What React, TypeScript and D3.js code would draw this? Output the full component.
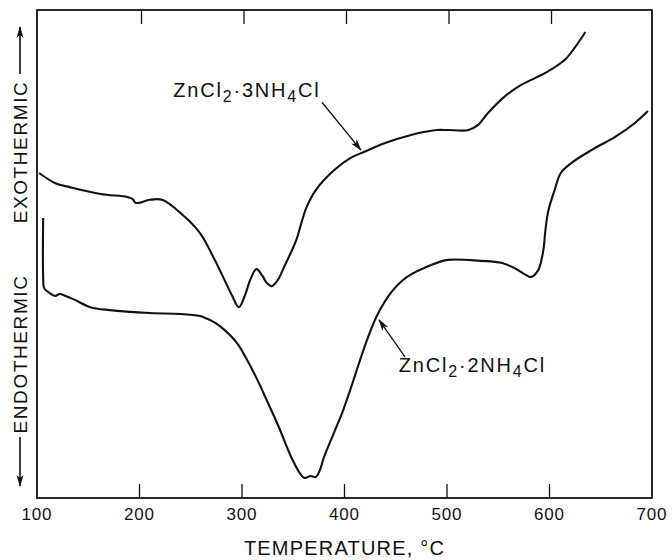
import React, { useEffect, useRef } from "react";
import * as d3 from "d3";

// ZnCl2·3NH4Cl trace
const tempA = [102, 118, 132, 162, 188, 193, 196, 200, 210, 222, 240, 259, 272, 282, 290, 297, 303, 308, 314, 320, 324, 329, 335, 341, 353, 358, 363, 372, 390, 406, 419, 439, 465, 490, 501, 521, 530, 540, 557, 572, 596, 615, 625, 635];
const signalA = [66.6, 64.5, 63.7, 62.3, 61.7, 61.3, 60.5, 60.5, 61.1, 61.1, 58.4, 54.3, 49.4, 45.1, 41.6, 39.1, 41.6, 44.7, 46.9, 45.5, 44.1, 43.4, 44.7, 47.3, 52.9, 56.4, 59.6, 63.1, 67.2, 69.7, 70.9, 72.7, 74.4, 75.4, 75.4, 75.4, 76.4, 78.9, 82.4, 84.6, 87.1, 89.8, 92.4, 95.5];

// ZnCl2·2NH4Cl trace
const tempB = [106, 106, 107, 111, 118, 122, 128, 137, 152, 171, 210, 240, 259, 262, 274, 282, 295, 305, 315, 324, 336, 348, 357, 361, 367, 372, 376, 380, 390, 398, 406, 411, 422, 432, 445, 461, 484, 501, 533, 553, 566, 577, 582, 589, 594, 596, 599, 605, 611, 621, 641, 664, 683, 696];
const signalB = [57.4, 45.5, 43.0, 42.2, 41.4, 41.8, 41.4, 40.6, 39.1, 38.5, 37.9, 37.7, 37.3, 37.1, 35.9, 34.6, 31.8, 28.3, 24.2, 20.1, 14.5, 8.4, 4.9, 4.1, 4.5, 4.3, 5.7, 8.4, 13.5, 17.6, 22.4, 25.6, 32.4, 37.5, 42, 45.3, 47.7, 48.8, 48.6, 48.2, 47.1, 45.7, 45.3, 46.7, 50.8, 54.9, 59, 63.1, 66.6, 68.6, 71.3, 74, 76.8, 79.3];

const xTicks = [100, 200, 300, 400, 500, 600, 700];
const xTitle = "TEMPERATURE, °C";

const FONT = "'Liberation Sans', Arial, Helvetica, sans-serif";

const App = () => {
  const chart = useRef<SVGSVGElement>(null);

  useEffect(() => {
    const svg = d3.select(chart.current);
    svg.selectAll("*").remove();

    const x = d3.scaleLinear().domain([100, 700]).range([37, 652]);
    const y = d3.scaleLinear().domain([0, 100]).range([498, 10]);

    const defs = svg.append("defs");
    defs
      .append("marker")
      .attr("id", "head")
      .attr("viewBox", "0 -5 12 10")
      .attr("refX", 11)
      .attr("refY", 0)
      .attr("markerWidth", 12)
      .attr("markerHeight", 10)
      .attr("markerUnits", "userSpaceOnUse")
      .attr("orient", "auto")
      .append("path")
      .attr("d", "M0,-3.5L12,0L0,3.5L3,0Z")
      .attr("fill", "#111");

    // frame
    svg
      .append("rect")
      .attr("x", x(100))
      .attr("y", y(100))
      .attr("width", x(700) - x(100))
      .attr("height", y(0) - y(100))
      .attr("fill", "none")
      .attr("stroke", "#111")
      .attr("stroke-width", 1.8);

    const inner = xTicks.slice(1, -1);
    svg
      .append("g")
      .selectAll("line.bt")
      .data(inner)
      .join("line")
      .attr("x1", (d) => x(d))
      .attr("x2", (d) => x(d))
      .attr("y1", y(0))
      .attr("y2", y(0) - 14)
      .attr("stroke", "#111")
      .attr("stroke-width", 1.3);
    svg
      .append("g")
      .selectAll("line.tt")
      .data(inner)
      .join("line")
      .attr("x1", (d) => x(d) + 2)
      .attr("x2", (d) => x(d) + 2)
      .attr("y1", y(100))
      .attr("y2", y(100) + 14)
      .attr("stroke", "#111")
      .attr("stroke-width", 1.3);

    svg
      .append("g")
      .selectAll("text")
      .data(xTicks)
      .join("text")
      .attr("x", (d) => x(d))
      .attr("y", 520)
      .attr("text-anchor", "middle")
      .attr("font-family", FONT)
      .attr("font-size", 17)
      .attr("letter-spacing", 0.8)
      .attr("fill", "#111")
      .text((d) => d);

    svg
      .append("text")
      .attr("x", x(400))
      .attr("y", 555)
      .attr("text-anchor", "middle")
      .attr("font-family", FONT)
      .attr("font-size", 20)
      .attr("letter-spacing", 1.2)
      .attr("fill", "#111")
      .text(xTitle);

    // y side labels
    const side = svg.append("g").attr("font-family", FONT).attr("font-size", 19).attr("letter-spacing", 1.6).attr("fill", "#111");
    side
      .append("text")
      .attr("transform", "translate(27,152) rotate(-90)")
      .attr("text-anchor", "middle")
      .text("EXOTHERMIC");
    side
      .append("text")
      .attr("transform", "translate(27,354) rotate(-90)")
      .attr("text-anchor", "middle")
      .text("ENDOTHERMIC");
    side
      .append("line")
      .attr("x1", 20)
      .attr("x2", 20)
      .attr("y1", 74)
      .attr("y2", 27)
      .attr("stroke", "#111")
      .attr("stroke-width", 1.6)
      .attr("marker-end", "url(#head)");
    side
      .append("line")
      .attr("x1", 20)
      .attr("x2", 20)
      .attr("y1", 437)
      .attr("y2", 486)
      .attr("stroke", "#111")
      .attr("stroke-width", 1.6)
      .attr("marker-end", "url(#head)");

    const line = d3
      .line<[number, number]>()
      .x((d) => x(d[0]))
      .y((d) => y(d[1]))
      .curve(d3.curveCatmullRom.alpha(0.5));

    const traces = [
      tempA.map((t, i) => [t, signalA[i]] as [number, number]),
      tempB.map((t, i) => [t, signalB[i]] as [number, number]),
    ];
    svg
      .append("g")
      .selectAll("path")
      .data(traces)
      .join("path")
      .attr("d", (d) => line(d))
      .attr("fill", "none")
      .attr("stroke", "#111")
      .attr("stroke-width", 2.1)
      .attr("stroke-linejoin", "round");

    // annotations
    const labels = [
      { t: 233, v: 82.2, n1: "3", ax: [378, 81.1], ay: [416, 71.3] },
      { t: 453, v: 25.8, n1: "2", ax: [459, 28.9], ay: [433.7, 36.5] },
    ];
    labels.forEach((l) => {
      const txt = svg
        .append("text")
        .attr("x", x(l.t))
        .attr("y", y(l.v))
        .attr("font-family", FONT)
        .attr("font-size", 20)
        .attr("letter-spacing", 1.8)
        .attr("fill", "#111");
      txt.append("tspan").text("ZnCl");
      txt.append("tspan").attr("dy", 5).attr("font-size", 16).text("2");
      txt.append("tspan").attr("dy", -5).text("·" + l.n1 + "NH");
      txt.append("tspan").attr("dy", 5).attr("font-size", 16).text("4");
      txt.append("tspan").attr("dy", -5).text("Cl");
      svg
        .append("line")
        .attr("x1", x(l.ax[0]))
        .attr("y1", y(l.ax[1]))
        .attr("x2", x(l.ay[0]))
        .attr("y2", y(l.ay[1]))
        .attr("stroke", "#111")
        .attr("stroke-width", 1.3)
        .attr("marker-end", "url(#head)");
    });
  });

  return (
    <svg
      ref={chart}
      width={672}
      height={560}
      style={{ position: "absolute", left: 0, top: 0, background: "#fff" }}
    ></svg>
  );
};

export default App;
